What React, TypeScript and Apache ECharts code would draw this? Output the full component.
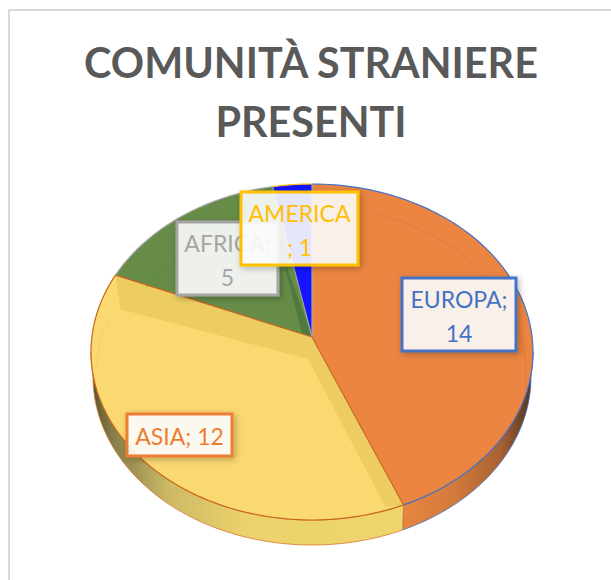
import React, { useEffect, useRef } from "react";
import * as echarts from "echarts";

const titleText = "COMUNITÀ STRANIERE\nPRESENTI";
const categories = ["EUROPA", "ASIA", "AFRICA", "AMERICA"];
const values = [14, 12, 5, 1];
const labelTexts = ["EUROPA;\n14", "ASIA; 12", "AFRICA;\n5", "AMERICA\n; 1"];
const faceColors = ["#EB8541", "#FBD971", "#668C48", "#1414FF"];
const accentColors = ["#4472C4", "#ED7D31", "#A5A5A5", "#FFC000"];

const FONT = "Lato, Carlito, 'Open Sans', sans-serif";
const CX = 312, CY = 352, RX = 221, RY = 168;
const APEX = [312, 337];
const WALL_CY = 377, WALL_RX = 219;
const total = values.reduce((a, b) => a + b, 0);
const rad = (d: number) => (d * Math.PI) / 180;

// clockwise angle from 12 o'clock -> parameter on the tilted ellipse
const project = (deg: number) => deg - 5.1 * Math.sin(rad(deg));
const onEllipse = (deg: number, cy = CY, rx = RX, ry = RY) => [
  CX + rx * Math.sin(rad(deg)),
  cy - ry * Math.cos(rad(deg)),
];
const arc = (a: number, b: number, cy = CY, rx = RX, ry = RY) => {
  const n = Math.max(2, Math.ceil(Math.abs(b - a) / 1.5));
  const pts: number[][] = [];
  for (let i = 0; i <= n; i++) pts.push(onEllipse(a + ((b - a) * i) / n, cy, rx, ry));
  return pts;
};
const sliceBounds = (i: number) => {
  const before = values.slice(0, i).reduce((a, b) => a + b, 0);
  return [
    project((before / total) * 360),
    project(((before + values[i]) / total) * 360),
  ];
};
const grad = (stops: [number, string][]) =>
  new echarts.graphic.LinearGradient(0, 0, 1, 0, stops.map(([offset, color]) => ({ offset, color })));

const wallFills = [
  grad([[0, "#E98540"], [0.4, "#D27A3B"], [0.75, "#A96233"], [1, "#4F3320"]]),
  grad([[0, "#56522F"], [0.07, "#857D4A"], [0.25, "#CDBA65"], [0.5, "#ECD26C"], [1, "#EFD56C"]]),
];

function renderWall(params: any, api: any) {
  const i = params.dataIndex;
  if (i > 1) return { type: "group", children: [] };
  const [a, b] = sliceBounds(i);
  const from = Math.max(a, 90);
  const to = Math.min(b, 270);
  const pts = [...arc(from, to), ...arc(to, from, WALL_CY, WALL_RX)];
  return {
    type: "polygon",
    shape: { points: pts },
    style: { fill: wallFills[i], stroke: i === 0 ? "#4472C4" : "#D9772B", lineWidth: 0.8 },
  };
}

function renderFace(params: any, api: any) {
  const i = params.dataIndex;
  const [a, b] = sliceBounds(i);
  const outer = arc(a, b);
  const children: any[] = [
    {
      type: "polygon",
      shape: { points: [APEX, ...outer] },
      style: { fill: faceColors[i], stroke: "none" },
    },
  ];
  if (i === 1) {
    const s = onEllipse(a);
    const e = onEllipse(b);
    const innerApex = [APEX[0] - 4, APEX[1] + 22];
    children.push({
      type: "polygon",
      shape: {
        points: [APEX, e, [e[0] + 5, e[1] + 34], innerApex, [s[0] - 18, s[1] + 2], s],
      },
      style: { fill: "#EDCD62", stroke: "none" },
    });
    children.push({
      type: "polyline",
      shape: { points: arc(b - 7, 272, CY + 22, 216, 160) },
      style: { fill: "none", stroke: "#F2D268", lineWidth: 1.2 },
    });
  }
  if (i === 2) {
    const e = onEllipse(b);
    children.push({
      type: "polygon",
      shape: { points: [APEX, [e[0] + 14, e[1] + 80], [e[0] + 12, e[1] + 80], [APEX[0] - 10, APEX[1] - 4]] },
      style: { fill: "#4F7A3C", stroke: "none" },
    });
    children.push({
      type: "polyline",
      shape: { points: arc(a + 7, b - 10, CY + 22, 200, 155) },
      style: { fill: "none", stroke: "#5E8443", lineWidth: 1 },
    });
  }
  if (i === 0) {
    children.push({
      type: "polyline",
      shape: { points: arc(a + 16, 96, CY + 22, 214, 168) },
      style: { fill: "none", stroke: "#DE7C3E", lineWidth: 1 },
    });
  }
  // rim of the slice, in the slice's accent colour
  children.push({
    type: "polyline",
    shape: { points: outer },
    style: { fill: "none", stroke: i === 1 ? "#C9651F" : accentColors[i], lineWidth: 1.2 },
  });
  return { type: "group", children };
}

function renderEdges(params: any, api: any) {
  const i = params.dataIndex;
  const [a] = sliceBounds(i);
  const p = onEllipse(a);
  return {
    type: "line",
    shape: { x1: APEX[0], y1: APEX[1], x2: p[0], y2: p[1] },
    style: {
      stroke: i === 0 ? "#9DA6B5" : i === 3 ? "#9AA39A" : "#C9651F",
      lineWidth: 1.2,
    },
  };
}

// draw order of the boxes: EUROPA, ASIA, AFRICA, AMERICA
const labelBoxes = [
  { x: 402, y: 278, w: 114, h: 73 },
  { x: 127, y: 414, w: 105, h: 42 },
  { x: 177, y: 222, w: 101, h: 73 },
  { x: 241, y: 192, w: 117, h: 73 },
];

function labelElements() {
  const els: any[] = [];
  categories.forEach((_, i) => {
    const b = labelBoxes[i];
    els.push({
      type: "rect",
      z: 10 + i * 2,
      shape: { x: b.x, y: b.y, width: b.w, height: b.h },
      style: {
        fill: "rgba(255,255,255,0.88)",
        stroke: accentColors[i],
        lineWidth: 3,
        shadowBlur: 6,
        shadowColor: "rgba(0,0,0,0.28)",
        shadowOffsetX: 2,
        shadowOffsetY: 2,
      },
    });
    els.push({
      type: "text",
      z: 11 + i * 2,
      x: b.x + b.w / 2,
      y: b.y + b.h / 2 + 1,
      style: {
        text: labelTexts[i],
        fill: accentColors[i],
        font: `23px ${FONT}`,
        lineHeight: 34,
        align: "center",
        verticalAlign: "middle",
      },
    });
  });
  return els;
}

const seriesData = values.map((v, i) => ({ name: categories[i], value: [v] }));

export default function App() {
  const ref = useRef<HTMLDivElement>(null);
  useEffect(() => {
    document.body.style.margin = "0";
    const chart = echarts.init(ref.current!, undefined, { renderer: "svg" });
    chart.setOption({
      animation: false,
      backgroundColor: "#fff",
      title: {
        text: titleText,
        left: 306,
        top: 27,
        textAlign: "center",
        textStyle: {
          fontFamily: FONT,
          fontWeight: "bold",
          fontSize: 41.3,
          lineHeight: 59,
          color: "#595959",
        },
      },
      graphic: [
        {
          type: "rect",
          z: 0,
          shape: { x: 9, y: 10, width: 800, height: 800 },
          style: { fill: "none", stroke: "#D9D9D9", lineWidth: 2 },
        },
        ...labelElements(),
      ],
      series: [
        { type: "custom", coordinateSystem: "none", z: 2, silent: true, renderItem: renderWall, data: seriesData },
        { type: "custom", coordinateSystem: "none", z: 3, silent: true, renderItem: renderFace, data: seriesData },
        { type: "custom", coordinateSystem: "none", z: 4, silent: true, renderItem: renderEdges, data: seriesData },
      ],
    });
    return () => chart.dispose();
  }, []);
  return <div ref={ref} style={{ position: "absolute", left: 0, top: 0, width: 611, height: 580 }} />;
}
